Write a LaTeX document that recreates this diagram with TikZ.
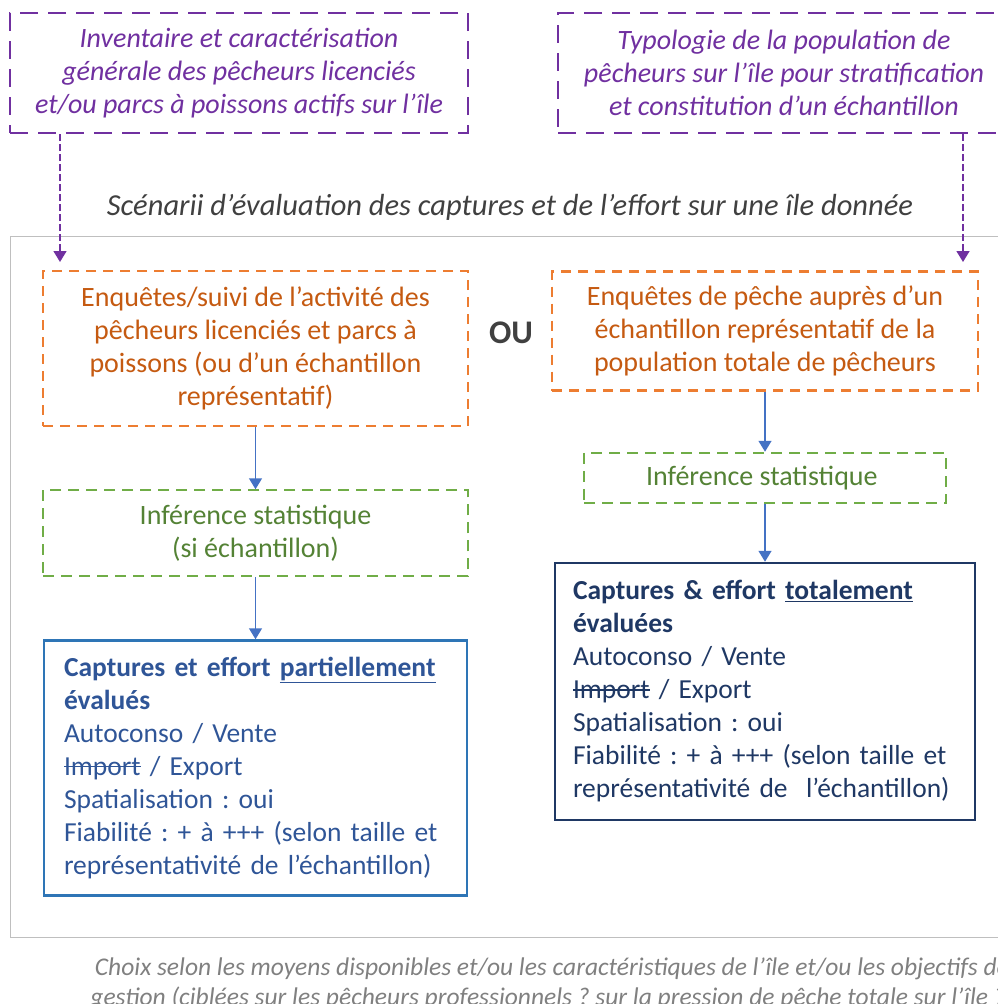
\documentclass[tikz,border=0pt]{standalone}
\usepackage{fontspec}
\setmainfont{Carlito}
\usetikzlibrary{arrows.meta,positioning,calc}

\definecolor{cviolet}{HTML}{7030A0}
\definecolor{corange}{HTML}{ED7D31}
\definecolor{corangetxt}{HTML}{C55A11}
\definecolor{cvert}{HTML}{70AD47}
\definecolor{cverttxt}{HTML}{548235}
\definecolor{cbleu}{HTML}{4472C4}
\definecolor{cbleumoyen}{HTML}{2E75B6}
\definecolor{cbleutxt}{HTML}{2F5597}
\definecolor{cmarine}{HTML}{1F3864}
\definecolor{cgris}{HTML}{404040}
\definecolor{cgrisclair}{HTML}{BFBFBF}
\definecolor{cgrisnote}{HTML}{808080}

% texte barré
\newcommand{\barre}[1]{\leavevmode\setbox0\hbox{#1}\rlap{\rule[0.3em]{\wd0}{1.3pt}}\box0\relax}
\frenchspacing

\begin{document}
\begin{tikzpicture}[
    x=1pt, y=-1pt,
    >={Triangle[length=11pt,width=13pt]}, % pointes pleines
    font=\fontsize{28}{33}\selectfont,
    % styles des cadres
    source/.style={
        draw=cviolet,
        line width=2.5pt,
        dash pattern=on 18pt off 10pt,
        text=cviolet,
        font=\fontsize{28}{33}\selectfont\itshape,
        align=center,
        minimum height=120pt
    },
    survey/.style={
        draw=corange,
        line width=2.5pt,
        dash pattern=on 10pt off 7pt,
        text=corangetxt,
        align=center
    },
    inference/.style={
        draw=cvert,
        line width=2pt,
        dash pattern=on 11pt off 7pt,
        text=cverttxt,
        align=center
    },
    result/.style={
        line width=2.5pt,
        align=left,
        inner ysep=0pt,
        font=\fontsize{27.5}{33}\selectfont
    },
    link/.style={->, line width=1.5pt, cbleu},
    linkdashed/.style={->, line width=1.5pt, dash pattern=on 7pt off 3pt, cviolet}
]
    \useasboundingbox (0,0) rectangle (998,1004);

    % --- 1. Sources (haut) ---
    \node[source, minimum width=458pt] (inv) at (239,73) {
        Inventaire et caractérisation\\
        générale des pêcheurs licenciés\\
        et/ou parcs à poissons actifs sur l’île
    };
    \node[source, minimum width=452pt] (typo) at (784,73) {
        Typologie de la population de\\
        pêcheurs sur l’île pour stratification\\
        et constitution d’un échantillon
    };

    % --- 2. Cadre des scénarii ---
    \node[text=cgris, font=\fontsize{30.5}{33}\selectfont\itshape] (titre) at (510,207)
        {Scénarii d’évaluation des captures et de l’effort sur une île donnée};
    \node[draw=cgrisclair, line width=1.2pt, inner sep=0pt, anchor=north west,
        minimum width=1000pt, minimum height=701pt] (cadre) at (10,236) {};

    % --- 3. Scénario de gauche ---
    \node[survey, minimum width=425pt, minimum height=155pt] (enqL) at (255.5,348.5) {
        Enquêtes/suivi de l’activité des\\
        pêcheurs licenciés et parcs à\\
        poissons (ou d’un échantillon\\
        représentatif)
    };
    \node[inference, minimum width=425pt, minimum height=86pt, below=62pt of enqL] (infL) {
        Inférence statistique\\
        (si échantillon)
    };
    \node[result, draw=cbleumoyen, text=cbleutxt, inner xsep=20pt, text width=383pt,
        minimum height=255pt, below=62pt of infL] (resL) {
        \textbf{Captures et effort \underline{partiellement}}\\
        \textbf{évalués}\\
        Autoconso / Vente\\
        \barre{Import} / Export\\
        Spatialisation : oui\\
        Fiabilité : + à +++ (selon taille et\\
        représentativité de l’échantillon)
    };

    % --- 4. OU ---
    \node[font=\fontsize{33}{33}\selectfont\bfseries, text=cgris] (ou) at (511,333) {OU};

    % --- 5. Scénario de droite ---
    \node[survey, minimum width=426pt, minimum height=119pt] (enqR) at (765,331) {
        Enquêtes de pêche auprès d’un\\
        échantillon représentatif de la\\
        population totale de pêcheurs
    };
    \node[inference, minimum width=362pt, minimum height=50pt, below=60pt of enqR] (infR) {
        Inférence statistique
    };
    \node[result, draw=cmarine, text=cmarine, inner xsep=18pt, text width=384pt,
        minimum height=257pt, below=58pt of infR] (resR) {
        \textbf{Captures \& effort \underline{totalement}}\\
        \textbf{évaluées}\\
        Autoconso / Vente\\
        \barre{Import} / Export\\
        Spatialisation : oui\\
        Fiabilité : + à +++ (selon taille et\\
        représentativité de \ l’échantillon)
    };

    % --- 6. Note du bas ---
    \node[text=cgrisnote, font=\fontsize{25.5}{30}\selectfont\itshape, align=center] (note) at (552,984) {
        Choix selon les moyens disponibles et/ou les caractéristiques de l’île et/ou les objectifs de\\
        gestion (ciblées sur les pêcheurs professionnels ? sur la pression de pêche totale sur l’île ?)
    };

    % --- 7. Flèches ---
    \coordinate (pL) at (60,262);
    \coordinate (pR) at (963,262);
    \draw[linkdashed] (inv.south -| pL) -- (pL);
    \draw[linkdashed] (typo.south -| pR) -- (pR);

    \draw[link] (enqL) -- (infL);
    \draw[link] (infL) -- (resL);
    \draw[link] (enqR) -- (infR);
    \draw[link] (infR) -- (resR);

\end{tikzpicture}
\end{document}
